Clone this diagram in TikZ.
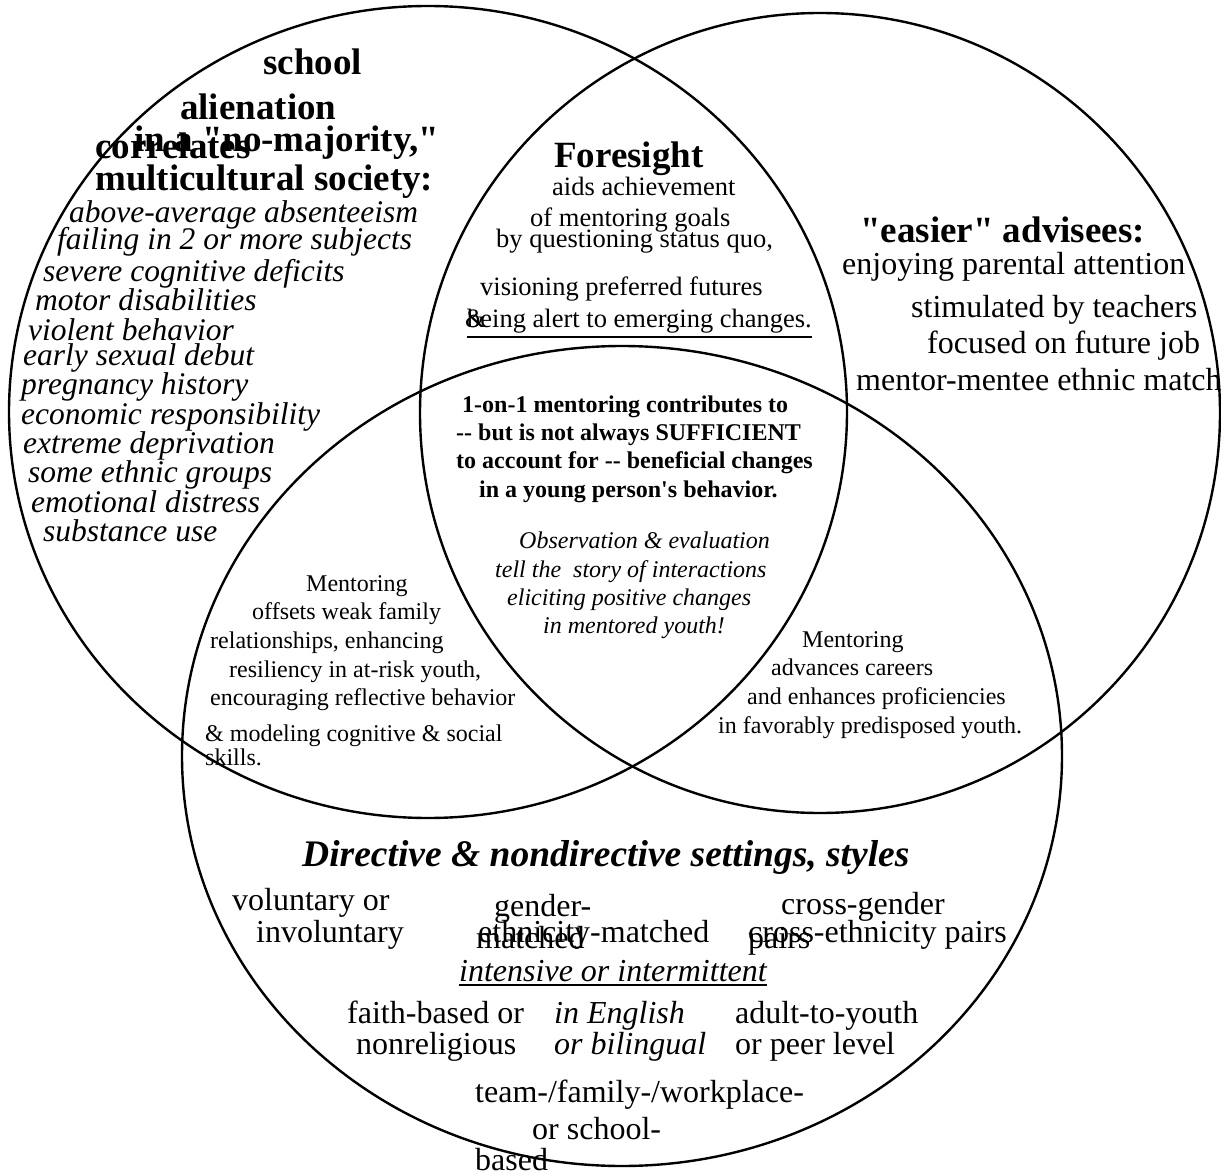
\documentclass[tikz,border=0pt]{standalone}
\usepackage{fontspec}
\setmainfont{Liberation Serif}[Ligatures=TeXOff]
\usetikzlibrary{calc}

\begin{document}
\begin{tikzpicture}[x=1pt,y=-1pt,
  venn/.style={line width=2.4pt},
  lbl/.style={anchor=base west,inner sep=0pt},
  head/.style={lbl,font=\fontsize{37}{40}\selectfont\bfseries},
  risk/.style={lbl,font=\fontsize{31.5}{34}\selectfont\itshape},
  easy/.style={lbl,font=\fontsize{32}{34}\selectfont},
  fore/.style={lbl,font=\fontsize{26.5}{30}\selectfont},
  core/.style={lbl,font=\fontsize{24}{28}\selectfont\bfseries},
  obs/.style={lbl,font=\fontsize{24}{28}\selectfont\itshape},
  ment/.style={lbl,font=\fontsize{24}{28}\selectfont},
  setg/.style={lbl,font=\fontsize{32}{34}\selectfont}]
\useasboundingbox (0,0) rectangle (1221,1174);
\draw[venn] (428,412) ellipse [x radius=419pt,y radius=406pt];
\draw[venn] (820,413) circle [radius=400pt];
\draw[venn] (622,756) ellipse [x radius=440pt,y radius=410pt];
% left circle
\node[head] (school) at (263,75) {school};
\node[head] (alien) at (180,120) {alienation};
\node[head] (correl) at (95,159) {correlates};
\node[head] (nomaj) at (134,152) {in a "no-majority,"};
\node[head] (multi) at (95,191) {multicultural society:};
\node[risk] (r1) at (69,223) {above-average absenteeism};
\node[risk] (r2) at (57,250) {failing in 2 or more subjects};
\node[risk] (r3) at (43,282) {severe cognitive deficits};
\node[risk] (r4) at (35,311) {motor disabilities};
\node[risk] (r5) at (28,341) {violent behavior};
\node[risk] (r6) at (23,366) {early sexual debut};
\node[risk] (r7) at (21,394) {pregnancy history};
\node[risk] (r8) at (21,424) {economic responsibility};
\node[risk] (r9) at (23,453) {extreme deprivation};
\node[risk] (r10) at (28,482) {some ethnic groups};
\node[risk] (r11) at (31,512) {emotional distress};
\node[risk] (r12) at (43,541) {substance use};
% right circle
\node[head] (easier) at (860,243) {"easier" advisees:};
\node[easy] (e1) at (842,275) {enjoying parental attention};
\node[easy] (e2) at (911,318) {stimulated by teachers};
\node[easy] (e3) at (927,353) {focused on future job};
\node[easy] (e4) at (856,390) {mentor-mentee ethnic match};
% foresight lens
\node[head] (foresight) at (554,168) {Foresight};
\node[fore] (f1) at (552,196) {aids achievement};
\node[fore] (f2) at (530,227) {of mentoring goals};
\node[fore] (f3) at (496,248) {by questioning status quo,};
\node[fore] (f4) at (480,296) {visioning preferred futures};
\node[fore] (amp) at (465,328) {\&};
\node[fore] (f5) at (467,328) {being alert to emerging changes.};
\draw[line width=1.6pt] ([yshift=-3pt]f5.south west) -- ([yshift=-3pt]f5.south east);
% centre
\node[core] (c1) at (462,412) {1-on-1 mentoring contributes to};
\node[core] (c2) at (456,440) {-- but is not always SUFFICIENT};
\node[core] (c3) at (456,468) {to account for -- beneficial changes};
\node[core] (c4) at (479,497) {in a young person's behavior.};
\node[obs] (o1) at (519,548) {Observation \& evaluation};
\node[obs] (o2) at (495,577) {tell the \ story of interactions};
\node[obs] (o3) at (507,605) {eliciting positive changes};
\node[obs] (o4) at (543,633) {in mentored youth!};
% left lens
\node[ment] (ml1) at (306,591) {Mentoring};
\node[ment] (ml2) at (252,619) {offsets weak family};
\node[ment] (ml3) at (210,648) {relationships, enhancing};
\node[ment] (ml4) at (229,677) {resiliency in at-risk youth,};
\node[ment] (ml5) at (210,705) {encouraging reflective behavior};
\node[ment] (ml6) at (205,741) {\& modeling cognitive \& social};
\node[ment] (ml7) at (205,765) {skills.};
% right lens
\node[ment] (mr1) at (802,647) {Mentoring};
\node[ment] (mr2) at (771,675) {advances careers};
\node[ment] (mr3) at (747,704) {and enhances proficiencies};
\node[ment] (mr4) at (718,733) {in favorably predisposed youth.};
% bottom circle
\node[lbl,font=\fontsize{37.5}{40}\selectfont\bfseries\itshape] (direct) at (302,866) {Directive \& nondirective settings, styles};
\node[setg] (s1) at (232,910) {voluntary or};
\node[setg] (s2) at (256,942) {involuntary};
\node[setg] (s3) at (494,916) {gender-};
\node[setg] (s4) at (476,948) {matched};
\node[setg] (s5) at (478,942) {ethnicity-matched};
\node[setg] (s6) at (781,914) {cross-gender};
\node[setg] (s7) at (748,948) {pairs};
\node[setg] (s8) at (748,942) {cross-ethnicity pairs};
\node[setg,font=\fontsize{32}{34}\selectfont\itshape] (s9) at (459,981) {intensive or intermittent};
\draw[line width=1.6pt] ([yshift=-4pt]s9.base west) -- ([yshift=-4pt]s9.base east);
\node[setg] (s10) at (347,1023) {faith-based or};
\node[setg] (s11) at (356,1054) {nonreligious};
\node[setg,font=\fontsize{32}{34}\selectfont\itshape] (s12) at (554,1023) {in English};
\node[setg,font=\fontsize{32}{34}\selectfont\itshape] (s13) at (554,1054) {or bilingual};
\node[setg] (s14) at (735,1023) {adult-to-youth};
\node[setg] (s15) at (735,1054) {or peer level};
\node[setg] (s16) at (475,1102) {team-/family-/workplace-};
\node[setg] (s17) at (532,1139) {or school-};
\node[setg] (s18) at (475,1170) {based};
\end{tikzpicture}
\end{document}
